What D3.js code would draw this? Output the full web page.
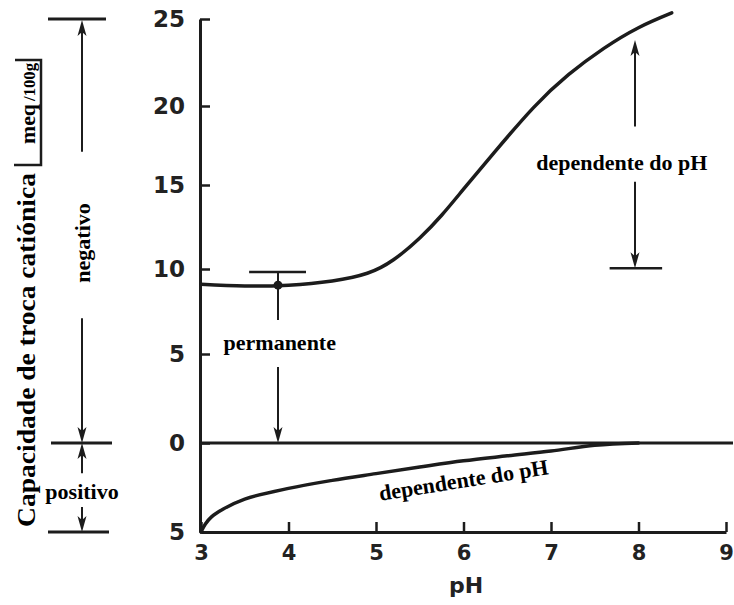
<!DOCTYPE html>
<html><head><meta charset="utf-8">
<script src="https://cdn.jsdelivr.net/npm/d3@7"></script>
<style>body{margin:0;background:#fff}</style>
</head><body>
<svg id="c" width="734" height="605"></svg>
<script>
// ---- data ----
const xTicks = [3, 4, 5, 6, 7, 8, 9];
const yTicks = [25, 20, 15, 10, 5, 0, -5];
const yTickLabels = ["25", "20", "15", "10", "5", "0", "5"];
const upperPH  = [3.0, 3.5, 4.0, 4.5, 4.9, 5.2, 5.5, 5.75, 6.0, 6.35, 6.8, 7.2, 7.6, 8.0, 8.38];
const upperCEC = [9.1, 9.0, 9.05, 9.3, 9.75, 10.55, 11.85, 13.2, 14.75, 17.05, 19.9, 21.8, 23.3, 24.5, 25.35];
const lowerPH  = [3.0, 3.05, 3.12, 3.25, 3.5, 4.0, 4.5, 5.0, 5.5, 6.0, 6.5, 7.0, 7.5, 8.0];
const lowerCEC = [-5.0, -4.55, -4.15, -3.72, -3.15, -2.55, -2.1, -1.72, -1.35, -1.0, -0.72, -0.45, -0.13, 0];
const zeroPH = [3, 9.08];
const labels = {
  yTitle: "Capacidade de troca catiónica",
  unit1: "meq", unit2: "/100g",
  xTitle: "pH",
  neg: "negativo", pos: "positivo",
  perm: "permanente", dep: "dependente do pH"
};

// ---- setup ----
const svg = d3.select("#c");
const ink = "#1c1c1c";
const x = d3.scaleLinear().domain([3, 9]).range([201, 726]);
const y = d3.scaleLinear().domain([-5, 0, 5, 10, 15, 20, 25]).range([532, 443, 354, 269, 185, 106, 19]);
const serif = "'Liberation Serif', 'Times New Roman', serif";
const sans = "'DejaVu Sans', sans-serif";

// ---- axes ----
const yAxis = d3.axisLeft(y).tickValues(yTicks)
  .tickFormat((d, i) => yTickLabels[i]).tickSizeInner(-10).tickSizeOuter(0).tickPadding(15);
const gy = svg.append("g").attr("transform", `translate(${x(3) - 1},0)`).call(yAxis);
const xAxis = d3.axisBottom(x).tickValues(xTicks).tickFormat(d3.format("d"))
  .tickSizeInner(-10).tickSizeOuter(0).tickPadding(13);
const gx = svg.append("g").attr("transform", `translate(0,${y(-5)})`).call(xAxis);
[gx, gy].forEach(g => {
  g.selectAll("path.domain").attr("stroke", ink).attr("stroke-width", 3);
  g.selectAll(".tick line").attr("stroke", ink).attr("stroke-width", 2.5);
  g.selectAll(".tick text").attr("fill", "#222").attr("font-family", sans).attr("font-weight", "bold");
});
gy.selectAll(".tick text").attr("font-size", 23);
gx.selectAll(".tick text").attr("font-size", 21);

svg.append("text").attr("x", x(6.03)).attr("y", 593).attr("text-anchor", "middle")
  .attr("font-family", sans).attr("font-size", 22).attr("font-weight", "bold").attr("fill", "#222")
  .text(labels.xTitle);

// ---- lines ----
const line = d3.line().x(d => x(d[0])).y(d => y(d[1]));
svg.append("path").datum(zeroPH.map(p => [p, 0])).attr("d", line)
  .attr("fill", "none").attr("stroke", ink).attr("stroke-width", 3);
svg.append("path").datum(upperPH.map((p, i) => [p, upperCEC[i]])).attr("d", line.curve(d3.curveNatural))
  .attr("fill", "none").attr("stroke", ink).attr("stroke-width", 3.5).attr("stroke-linecap", "round");
svg.append("path").datum(lowerPH.map((p, i) => [p, lowerCEC[i]])).attr("d", line.curve(d3.curveCatmullRom.alpha(0.5)))
  .attr("fill", "none").attr("stroke", ink).attr("stroke-width", 3.5).attr("stroke-linecap", "round");

// ---- annotation helpers ----
const ann = svg.append("g");
function seg(x1, y1, x2, y2, w = 2) {
  ann.append("line").attr("x1", x1).attr("y1", y1).attr("x2", x2).attr("y2", y2)
    .attr("stroke", ink).attr("stroke-width", w);
}
function head(xt, yt, dir) { // dir 1 = pointing down, -1 = pointing up
  const L = 16, W = 4.5;
  ann.append("path").attr("d", `M${xt},${yt} L${xt - W},${yt - dir * L} L${xt},${yt - dir * (L - 4)} L${xt + W},${yt - dir * L} Z`)
    .attr("fill", ink);
}
function label(txt, cx, cy, size, rot = 0) {
  ann.append("text").attr("transform", `translate(${cx},${cy}) rotate(${rot})`)
    .attr("text-anchor", "middle").attr("dominant-baseline", "central")
    .attr("font-family", serif).attr("font-weight", "bold").attr("font-size", size).attr("fill", "#000")
    .text(txt);
}

// left: negativo / positivo
const ax = 82;
seg(48, y(25), 106, y(25), 3);
head(ax, y(25) + 1, -1); seg(ax, y(25) + 10, ax, y(17.1));
label(labels.neg, ax, y(11.55), 22, -90);
seg(ax, y(7.1), ax, y(0) - 10); head(ax, y(0), 1);
seg(51, y(0), 112, y(0), 3);
head(ax, y(0), -1); seg(ax, y(0) + 10, ax, y(-1.7));
label(labels.pos, ax, y(-2.75), 22);
seg(ax, y(-3.6), ax, y(-5) - 10); head(ax, y(-5), 1);
seg(48, y(-5), 109, y(-5), 3);

// y title
function vtext(txt, bx, by, size, len) {
  const t = svg.append("text").attr("transform", `translate(${bx},${by}) rotate(-90)`)
    .attr("font-family", serif).attr("font-weight", "bold").attr("font-size", size).attr("fill", "#000")
    .text(txt);
  if (len) t.attr("textLength", len).attr("lengthAdjust", "spacingAndGlyphs");
  return t;
}
vtext(labels.yTitle, 35, 527, 25, 354);
vtext(labels.unit1, 35, 144, 22, 40);
vtext(labels.unit2, 35, 101, 16, 38);
svg.append("path").attr("d", "M14,165 L41,165 L41,60 L15,60").attr("fill", "none")
  .attr("stroke", ink).attr("stroke-width", 2.5);

// permanente
const px = x(3.88);
seg(x(3.55), y(9.82), x(4.2), y(9.82), 2.5);
seg(px, y(9.82), px, y(7.0));
ann.append("circle").attr("cx", px).attr("cy", y(9.05)).attr("r", 4.5).attr("fill", ink);
label(labels.perm, x(3.9), y(5.7), 22);
seg(px, y(4.27), px, y(0) - 10); head(px, y(0), 1);

// right: dependente do pH
const rx = x(7.96);
head(rx, y(23.8), -1); seg(rx, y(23.8) + 10, rx, y(18.7));
label(labels.dep, x(7.81), y(16.4), 22);
seg(rx, y(15.2), rx, y(10.05) - 10); head(rx, y(10.05), 1);
seg(x(7.67), y(10.05), x(8.27), y(10.05), 2.5);

// lower: dependente do pH (slanted)
label(labels.dep, x(6.0), y(-2.08), 22, -9);
</script>
</body></html>
